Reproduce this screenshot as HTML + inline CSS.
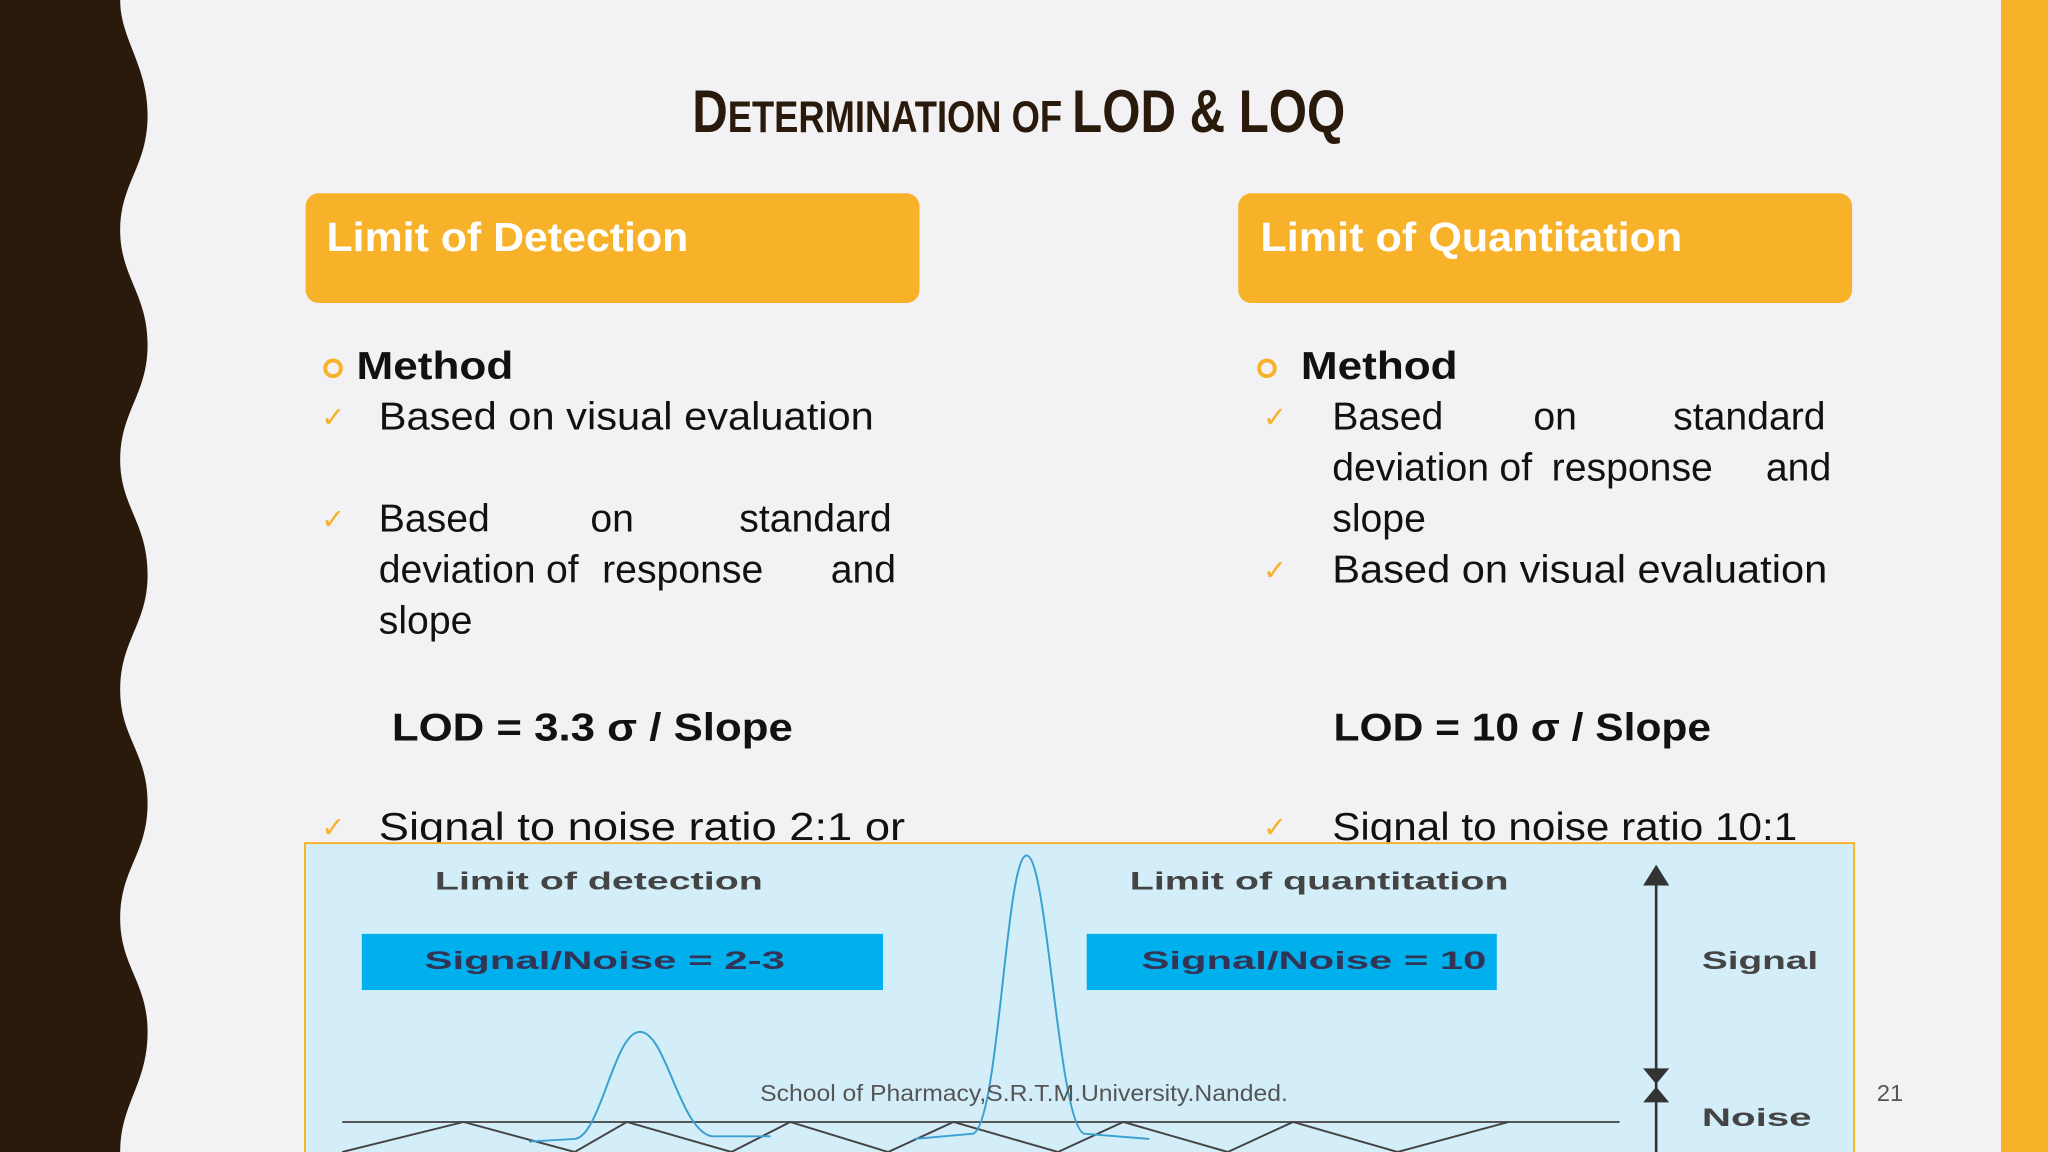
<!DOCTYPE html>
<html><head><meta charset="utf-8"><style>
html,body{margin:0;padding:0;background:#f2f1f3;overflow:hidden}
svg{display:block}
</style></head><body>
<svg width="2048" height="1152" viewBox="0 0 1568 882" xmlns="http://www.w3.org/2000/svg" font-family="'Liberation Sans', sans-serif">
<rect width="1568" height="882" fill="#f2f1f3"/>
<path fill="#2a1a0b" d="M0,0 H92 C92,30 113,50 113,88 C113,128 92,140 92,176 C92,212 113,225 113,264 C113,302 92,315 92,352 C92,388 113,400 113,440 C113,478 92,490 92,528 C92,565 113,576 113,615 C113,654 92,665 92,703 C92,740 113,752 113,790 C113,830 92,845 92,882 H0 Z"/>
<rect x="1532" y="0" width="36" height="882" fill="#f8b22a"/>
<text x="530" y="101" textLength="500" lengthAdjust="spacingAndGlyphs" font-weight="bold" fill="#2a1a0b"><tspan font-size="46">D</tspan><tspan font-size="34">ETERMINATION OF </tspan><tspan font-size="46"> LOD &amp; LOQ</tspan></text>
<rect x="234" y="148" width="470" height="84" rx="10" fill="#f8b22a"/>
<text x="250" y="192" font-size="31" font-weight="bold" fill="#fff" textLength="277" lengthAdjust="spacingAndGlyphs">Limit of Detection</text>
<rect x="948" y="148" width="470" height="84" rx="10" fill="#f8b22a"/>
<text x="965" y="192" font-size="31" font-weight="bold" fill="#fff" textLength="323" lengthAdjust="spacingAndGlyphs">Limit of Quantitation</text>
<g font-size="30" fill="#111">
<circle cx="255" cy="282" r="6" fill="none" stroke="#f8b22a" stroke-width="3"/>
<text x="273" y="290" font-weight="bold" textLength="120" lengthAdjust="spacingAndGlyphs">Method</text>
<text x="246" y="327" font-size="22" fill="#f8b22a">✓</text>
<text x="290" y="329" textLength="379" lengthAdjust="spacingAndGlyphs">Based on visual evaluation</text>
<text x="246" y="405" font-size="22" fill="#f8b22a">✓</text>
<text x="290" y="407">Based<tspan x="452">on</tspan><tspan x="566">standard</tspan></text>
<text x="290" y="446">deviation<tspan x="418">of</tspan><tspan x="461">response</tspan><tspan x="636">and</tspan></text>
<text x="290" y="485">slope</text>
<text x="300" y="567" font-weight="bold" textLength="307" lengthAdjust="spacingAndGlyphs">LOD  = 3.3 σ / Slope</text>
<text x="246" y="641" font-size="22" fill="#f8b22a">✓</text>
<text x="290" y="643" textLength="403" lengthAdjust="spacingAndGlyphs">Signal to noise ratio 2:1 or</text>
<circle cx="970" cy="282" r="6" fill="none" stroke="#f8b22a" stroke-width="3"/>
<text x="996" y="290" font-weight="bold" textLength="120" lengthAdjust="spacingAndGlyphs">Method</text>
<text x="967" y="327" font-size="22" fill="#f8b22a">✓</text>
<text x="1020" y="329">Based<tspan x="1174">on</tspan><tspan x="1281">standard</tspan></text>
<text x="1020" y="368">deviation<tspan x="1148">of</tspan><tspan x="1188">response</tspan><tspan x="1352">and</tspan></text>
<text x="1020" y="407">slope</text>
<text x="967" y="444" font-size="22" fill="#f8b22a">✓</text>
<text x="1020" y="446" textLength="379" lengthAdjust="spacingAndGlyphs">Based on visual evaluation</text>
<text x="1021" y="567" font-weight="bold" textLength="289" lengthAdjust="spacingAndGlyphs">LOD = 10 σ / Slope</text>
<text x="967" y="641" font-size="22" fill="#f8b22a">✓</text>
<text x="1020" y="643" textLength="356" lengthAdjust="spacingAndGlyphs">Signal to noise ratio 10:1</text>
</g>
<g>
<rect x="233.5" y="645.5" width="1186" height="240" fill="#d3eef9" stroke="#f8b22a" stroke-width="1.5"/>
<text x="333" y="681" font-size="19" font-weight="bold" fill="#444" textLength="251" lengthAdjust="spacingAndGlyphs">Limit of detection</text>
<text x="865" y="681" font-size="19" font-weight="bold" fill="#444" textLength="290" lengthAdjust="spacingAndGlyphs">Limit of quantitation</text>
<rect x="277" y="715" width="399" height="43" fill="#00b0ec"/>
<text x="325" y="742" font-size="19" font-weight="bold" fill="#335" textLength="276" lengthAdjust="spacingAndGlyphs">Signal/Noise = 2-3</text>
<rect x="832" y="715" width="314" height="43" fill="#00b0ec"/>
<text x="874" y="742" font-size="19" font-weight="bold" fill="#335" textLength="264" lengthAdjust="spacingAndGlyphs">Signal/Noise = 10</text>
<line x1="262" y1="859" x2="1240" y2="859" stroke="#555" stroke-width="1.5"/>
<polyline fill="none" stroke="#444" stroke-width="1.5" points="262,882 355,859 440,882 480,859 560,882 605,859 680,882 730,859 810,882 860,859 940,882 990,859 1070,882 1155,859"/>
<path fill="none" stroke="#3aa0d0" stroke-width="1.5" d="M405,874 L440,872 C460,870 470,790 490,790 C510,790 520,865 545,870 L590,870"/>
<path fill="none" stroke="#3aa0d0" stroke-width="1.5" d="M700,872 L745,868 C765,860 770,655 786,655 C802,655 810,860 830,868 L880,872"/>
<line x1="1268" y1="668" x2="1268" y2="882" stroke="#333" stroke-width="2"/>
<polygon points="1268,662 1258,678 1278,678" fill="#333"/>
<polygon points="1268,830 1258,818 1278,818" fill="#333"/>
<polygon points="1268,832 1258,844 1278,844" fill="#333"/>
<text x="1303" y="742" font-size="19" font-weight="bold" fill="#444" textLength="89" lengthAdjust="spacingAndGlyphs">Signal</text>
<text x="1303" y="862" font-size="19" font-weight="bold" fill="#444" textLength="84" lengthAdjust="spacingAndGlyphs">Noise</text>
</g>
<text x="784" y="843" font-size="18" fill="#555" text-anchor="middle" textLength="404" lengthAdjust="spacingAndGlyphs">School of Pharmacy,S.R.T.M.University.Nanded.</text>
<text x="1447" y="843" font-size="18" fill="#555" text-anchor="middle">21</text>
</svg>
</body></html>
